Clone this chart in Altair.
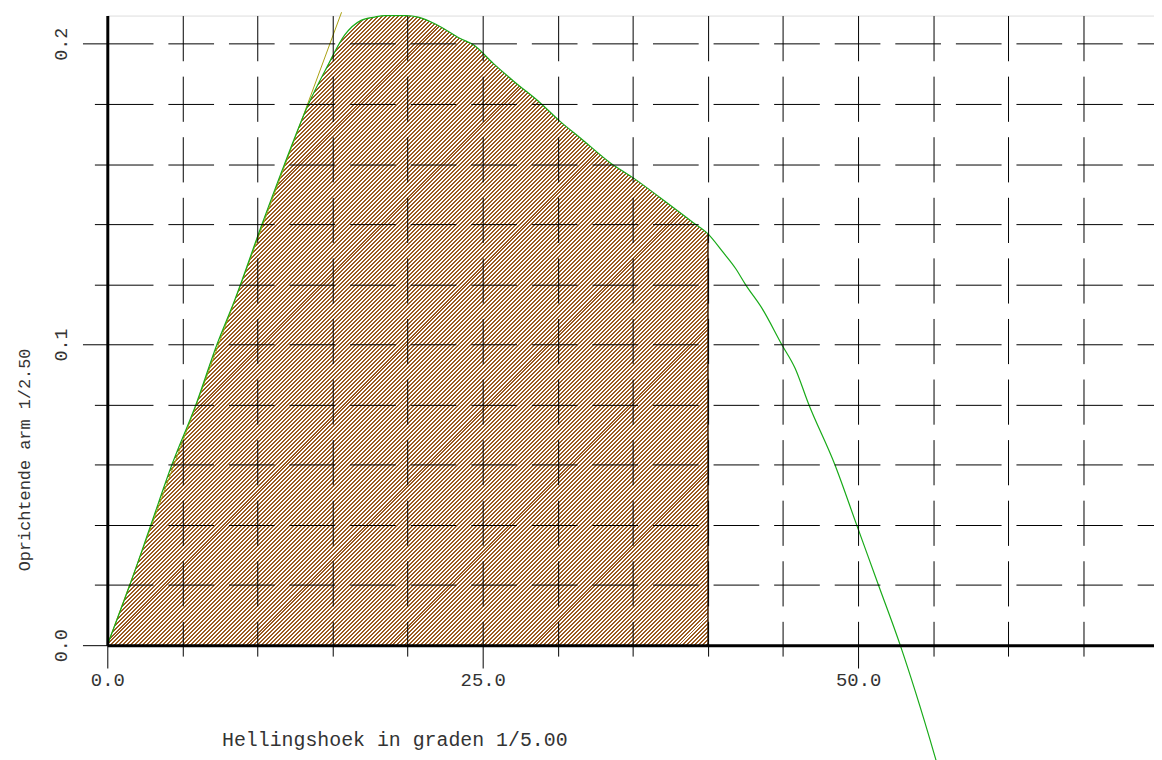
import altair as alt
import pandas as pd

# ---- data ----
heel = [0, 1.5, 2.9, 4.3, 5.9, 7.3, 8.5, 10.3, 11.8, 13.4, 14.6, 15.8, 16.9, 17.8,
        18.5, 19.9, 20.7, 22.0, 23.5, 24.4, 25.7, 27.1, 28.8, 30.15, 31.5, 33.5, 35.0,
        36.8, 39.0, 40.0, 41.0, 41.85, 42.5, 43.6, 44.9, 45.8, 46.7, 48.45, 49.9,
        51.35, 52.8, 53.8, 55.1, 55.4]
gz = [0.0, 0.020, 0.040, 0.060, 0.080, 0.100, 0.115, 0.140, 0.160, 0.180, 0.192, 0.2029,
      0.2078, 0.2089, 0.2094, 0.2094, 0.2089, 0.2062, 0.2018, 0.1996, 0.1935, 0.1874,
      0.1805, 0.1742, 0.1687, 0.1604, 0.1555, 0.1489, 0.1406, 0.1368, 0.1307, 0.1252,
      0.1199, 0.1120, 0.1001, 0.0921, 0.0802, 0.0600, 0.0400, 0.0200, 0.0,
      -0.0153, -0.0368, -0.042]
area_limit = 40.0
tangent_x = [0.0, 15.6]
tangent_y = [0.0, 0.2105]
x_ticks = list(range(0, 70, 5))
y_ticks = [round(i * 0.02, 2) for i in range(11)]

curve = pd.DataFrame({"heel": heel, "gz": gz})
area_df = curve[curve["heel"] <= area_limit]
edge_df = pd.DataFrame({"heel": [area_limit], "gz": [gz[heel.index(area_limit)]], "base": [0.0]})
tangent = pd.DataFrame({"heel": tangent_x, "gz": tangent_y})

FONT = "Liberation Mono"
TXT = "#333333"

X_MAX, Y_MAX = 69.7, 0.2094
PLOT_W, PLOT_H = 1054, 634

# ---- hatch fill: 45-degree stripes built as a linear gradient ----
W = area_limit / X_MAX * PLOT_W                 # pixel width of the hatched region
H = max(area_df["gz"]) / Y_MAX * PLOT_H         # pixel height of the hatched region
K = W + H * H / W                               # gradient length in (x+y) pixel units
P = 4.0                                         # stripe period in (x+y) pixels
STRIPE, WHITE = "#9a5a20", "#ffffff"
segs = [(0.0, 0.5, WHITE)]
k = 0
while P * k < K:
    b = P * k
    segs += [(b + 0.5, b + 2.5, STRIPE), (b + 2.5, b + P + 0.5, WHITE)]
    k += 1
stops = []
for s, e, col in segs:
    s, e = min(s, K) / K, min(e, K) / K
    stops.append(alt.GradientStop(color=col, offset=round(s, 7)))
    stops.append(alt.GradientStop(color=col, offset=round(e, 7)))
hatch = alt.LinearGradient(gradient="linear", stops=stops, x1=0, y1=0, x2=1, y2=H / W)

x_scale = alt.Scale(domain=[0, X_MAX], nice=False, zero=False)
y_scale = alt.Scale(domain=[0, Y_MAX], nice=False, zero=False)

x_axis = alt.Axis(
    values=x_ticks, grid=True, gridColor="black", gridWidth=1, gridDash=[45.5, 15.5],
    domainColor="black", domainWidth=3, tickColor="black", tickWidth=1,
    tickSize={"condition": {"test": "datum.value % 25 === 0", "value": 23}, "value": 11},
    labelExpr="datum.value % 25 === 0 ? format(datum.value, '.1f') : ''",
    labelFont=FONT, labelFontSize=19, labelColor=TXT, labelPadding=3,
    labelBaseline="top", labelFlush=False, labelOverlap=False,
    title="Hellingshoek in graden 1/5.00", titleFont=FONT, titleFontSize=20,
    titleFontWeight="normal", titleColor=TXT, titleX=289, titleY=101,
    titleAlign="center", titleBaseline="alphabetic", zindex=1,
)
y_axis = alt.Axis(
    values=y_ticks, grid=True, gridColor="black", gridWidth=1, gridDash=[46, 15],
    domainColor="black", domainWidth=3, tickColor="black", tickWidth=1,
    tickSize={"condition": {"test": "abs(datum.value * 10 - round(datum.value * 10)) < 0.001",
                            "value": 25}, "value": 13},
    labelExpr="abs(datum.value * 10 - round(datum.value * 10)) < 0.001 ? format(datum.value, '.1f') : ''",
    labelFont=FONT, labelFontSize=18.5, labelColor=TXT, labelAngle=270,
    labelAlign="center", labelBaseline="alphabetic", labelPadding=16,
    labelFlush=False, labelOverlap=False,
    title="Oprichtende arm 1/2.50", titleFont=FONT, titleFontSize=17,
    titleFontWeight="normal", titleColor=TXT, titleAngle=270,
    titleX=-78, titleY=447, titleAlign="center", titleBaseline="alphabetic", zindex=1,
)

area = alt.Chart(area_df).mark_area(fill=hatch, strokeWidth=0, interpolate="monotone").encode(
    x=alt.X("heel:Q", scale=x_scale, axis=x_axis),
    y=alt.Y("gz:Q", scale=y_scale, axis=y_axis),
)
edge = alt.Chart(edge_df).mark_rule(color="#3a1e06", strokeWidth=1.5).encode(
    x="heel:Q", y="base:Q", y2="gz:Q"
)
tan_line = alt.Chart(tangent).mark_line(color="#a8a010", strokeWidth=1).encode(
    x="heel:Q", y="gz:Q"
)
gz_line = alt.Chart(curve).mark_line(color="#18aa18", strokeWidth=1.2,
                                     interpolate="monotone").encode(
    x="heel:Q", y="gz:Q"
)

chart = alt.layer(area, edge, tan_line, gz_line).properties(
    width=PLOT_W, height=PLOT_H,
    autosize=alt.AutoSizeParams(type="none"),
    padding={"left": 100, "top": 5, "right": 0, "bottom": 113},
).configure_view(stroke=None).configure(background="white")

chart.save("out.html", embed_options={"renderer": "svg", "actions": False})
